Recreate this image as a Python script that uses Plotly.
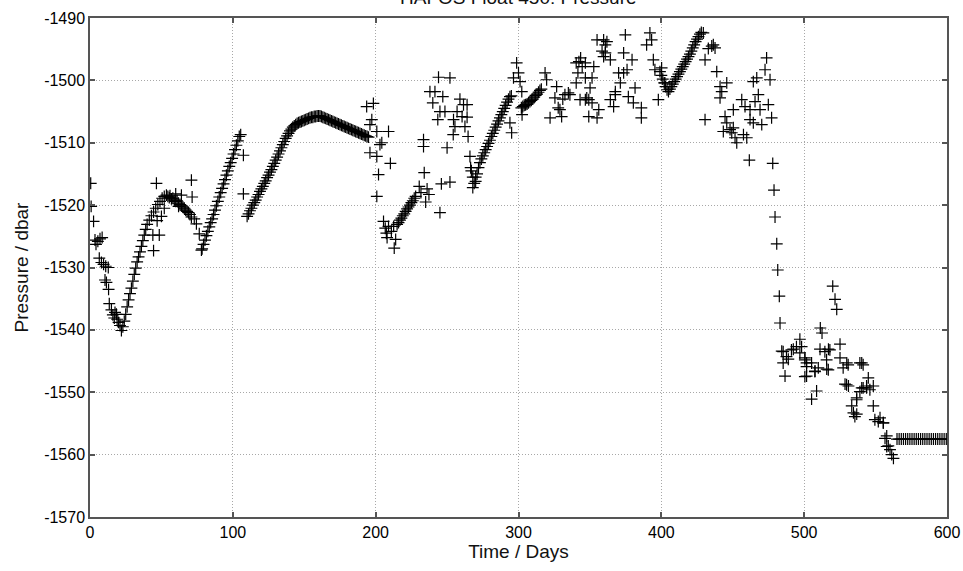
import plotly.graph_objects as go

# ---- data (day, pressure in dbar) ----
early_days = [0.5, 0.8, 2.5, 3.5, 4.2, 5.5, 7.0, 8.5, 6.5, 8.0, 9.5, 11.0, 12.8, 10.5, 11.5, 13.0,
              13.5, 15.0, 16.0, 17.5, 18.5, 17.0, 19.0, 20.0, 21.0, 22.0]
early_pres = [-1516.5, -1520.2, -1522.6, -1525.6, -1526.3, -1525.8, -1525.4, -1525.2, -1528.5, -1529.2,
              -1529.5, -1529.8, -1530.0, -1532.0, -1532.4, -1533.5, -1535.8, -1536.8, -1537.6, -1537.2,
              -1537.5, -1538.1, -1538.3, -1538.8, -1539.3, -1540.1]

ramp1_days = [23, 24, 25, 26, 27, 28, 29, 30, 31, 32, 33, 34, 35, 36, 37, 38, 39, 40, 41.5, 43, 44.5,
              46, 47.5, 49, 50.5, 52, 53.5]
ramp1_pres = [-1539.5, -1538.6, -1537.5, -1536.3, -1535.2, -1534.2, -1533.3, -1532.2, -1531.1, -1530.1,
              -1529.1, -1528.3, -1527.5, -1526.6, -1525.7, -1524.8, -1523.9, -1523.1, -1522.4, -1521.7,
              -1521.1, -1520.5, -1519.9, -1519.4, -1518.9, -1518.6, -1518.4]

scat1_days = [46.5, 44.0, 44.5, 48.5, 50.0, 52.0, 47.0, 71.0, 71.5, 64.0, 60.0, 62.0, 74.5, 76.5, 78.0, 73.0]
scat1_pres = [-1516.5, -1524.8, -1527.3, -1524.8, -1521.8, -1520.5, -1522.5, -1516.0, -1518.7, -1518.4,
              -1518.2, -1520.2, -1523.0, -1524.6, -1527.2, -1522.2]

plat_days = [54.5, 55.5, 56, 57, 58, 59, 60, 61, 62, 63, 64, 65, 66, 67, 68, 69, 70, 71]
plat_pres = [-1518.6, -1518.8, -1518.5, -1519.0, -1518.9, -1519.2, -1519.4, -1519.3, -1519.7, -1519.9,
             -1520.1, -1520.3, -1520.5, -1520.8, -1521.0, -1521.2, -1521.5, -1521.9]

ramp2_days = [78.5, 79.5, 80.5, 81.5, 82.5, 83.5, 84.5, 85.5, 86.5, 87.5, 88.5, 89.5, 90.5, 91.5, 92.5,
              93.5, 94.5, 95.5, 96.5, 97.5, 98.5, 99.5, 100.5, 101.5, 102.5, 103.5, 104.5, 105.5, 107.4, 107.4]
ramp2_pres = [-1527.0, -1526.3, -1525.6, -1524.9, -1524.2, -1523.5, -1522.8, -1522.2, -1521.5, -1520.8,
              -1520.1, -1519.4, -1518.7, -1518.0, -1517.3, -1516.6, -1515.9, -1515.2, -1514.5, -1513.8,
              -1513.2, -1512.5, -1511.8, -1511.1, -1510.4, -1509.7, -1509.0, -1508.7, -1512.0, -1518.2]

ramp3_days = [110, 111, 112, 113, 114, 115, 116, 117, 118, 119, 120, 121, 122, 123, 124, 125, 126, 127,
              128, 129, 130, 131, 132, 133, 134, 135, 136, 137, 138, 139, 140, 141, 142, 143, 144, 145,
              146, 147, 148, 149, 150, 151, 152, 153, 154, 155, 156, 157, 158, 159, 160, 161, 162, 163,
              164, 165, 166, 167, 168, 169, 170, 171, 172, 173, 174, 175, 176, 177, 178, 179, 180, 181,
              182, 183, 184, 185, 186, 187, 188, 189, 190, 191, 192, 193, 194, 195]
ramp3_pres = [-1521.8, -1521.4, -1520.9, -1520.5, -1520.0, -1519.6, -1519.2, -1518.7, -1518.3, -1517.8,
              -1517.4, -1517.0, -1516.5, -1516.1, -1515.6, -1515.2, -1514.7, -1514.3, -1513.8, -1513.3,
              -1512.8, -1512.3, -1511.8, -1511.3, -1510.8, -1510.3, -1509.8, -1509.3, -1508.9, -1508.5,
              -1508.1, -1507.8, -1507.5, -1507.3, -1507.1, -1506.9, -1506.8, -1506.7, -1506.6, -1506.5,
              -1506.4, -1506.3, -1506.2, -1506.1, -1506.0, -1505.9, -1505.9, -1505.8, -1505.8, -1505.7,
              -1505.7, -1505.7, -1505.8, -1505.9, -1506.0, -1506.1, -1506.2, -1506.3, -1506.4, -1506.5,
              -1506.6, -1506.7, -1506.8, -1506.9, -1507.0, -1507.1, -1507.2, -1507.3, -1507.4, -1507.5,
              -1507.6, -1507.7, -1507.8, -1507.9, -1508.0, -1508.1, -1508.2, -1508.3, -1508.4, -1508.5,
              -1508.6, -1508.7, -1508.8, -1508.9, -1509.0, -1509.1]

scat2_days = [193.7, 198.4, 197.3, 196.0, 200.8, 209.0, 204.3, 203.0, 196.0, 200.8, 210.3, 202.0, 200.8,
              205.5, 206.7, 209.0, 212.6, 207.5, 211.0, 214.0, 213.0, 208.0]
scat2_pres = [-1504.2, -1503.7, -1506.3, -1507.1, -1508.2, -1508.2, -1510.0, -1510.3, -1511.6, -1512.2,
              -1513.3, -1515.1, -1518.6, -1522.6, -1523.7, -1523.4, -1523.4, -1524.5, -1524.2, -1525.5,
              -1526.9, -1525.2]

ramp4_days = [215, 216, 217, 218, 219, 220, 221, 222, 223, 224, 225, 226, 227, 228]
ramp4_pres = [-1523.1, -1522.8, -1522.4, -1522.1, -1521.7, -1521.4, -1521.0, -1520.6, -1520.3, -1520.0,
              -1519.6, -1519.3, -1518.9, -1518.6]

scat3_days = [230.5, 234.0, 231.7, 237.3, 236.0, 235.0, 245.0, 246.0, 252.0, 233.5, 233.5, 244.0, 252.0,
              238.0, 241.5, 240.0, 247.0, 245.0, 248.5, 243.5, 259.0, 261.5, 264.0, 257.0, 260.5, 264.0,
              254.5, 255.5, 262.5, 254.3, 264.7, 250.0]
scat3_pres = [-1517.0, -1514.8, -1518.0, -1518.3, -1517.4, -1519.5, -1521.2, -1516.6, -1516.3, -1509.5,
              -1510.6, -1499.5, -1499.6, -1501.8, -1501.8, -1503.6, -1502.6, -1505.0, -1505.0, -1506.3,
              -1503.0, -1503.9, -1503.9, -1505.0, -1505.8, -1505.9, -1506.3, -1507.4, -1507.4, -1508.7,
              -1509.0, -1510.8]

ramp5_days = [266, 266.5, 268, 270, 267, 268, 269, 270, 271, 272, 273, 274, 275, 276, 277, 278, 279, 280,
              281, 282, 283, 284, 285, 286, 287, 288, 289, 290, 291, 292, 293, 294, 295]
ramp5_pres = [-1512.2, -1514.0, -1517.2, -1515.5, -1514.5, -1515.5, -1516.5, -1516.2, -1515.0, -1514.0,
              -1513.2, -1512.6, -1512.1, -1511.6, -1511.1, -1510.6, -1510.1, -1509.6, -1509.0, -1508.5,
              -1508.0, -1507.5, -1507.0, -1506.5, -1506.0, -1505.5, -1505.0, -1504.5, -1504.0, -1503.5,
              -1503.0, -1502.6, -1502.5]

mid_days = [298.7, 300.0, 296.5, 301.1, 302.3, 294.0, 295.2,
            302, 303, 304, 305, 306, 307, 308, 309, 310, 311, 312, 313, 314, 315, 316,
            302.5, 318.6, 319.7, 326.7, 325.5, 327.8, 329.0, 322.1, 330.2, 332.5, 334.9, 336.0, 331.0,
            340.4, 343.5, 342.3, 341.6, 340.4, 344.6, 346.8, 346.8, 351.5, 352.7, 343.1, 347.8, 350.1,
            351.5, 346.8, 349.2, 349.2, 355.0, 356.2, 355.0, 359.6, 360.8, 358.5, 361.9, 360.8, 359.6,
            364.3, 364.3, 367.8, 366.6, 367.8, 370.1, 373.6, 374.8, 373.6, 376.0, 379.5, 371.3, 376.9,
            381.6, 380.4, 386.0, 386.0, 389.7, 392.0, 393.2, 394.4, 395.5, 397.9, 400.2, 402.5]
mid_pres = [-1497.2, -1498.8, -1499.6, -1500.2, -1501.8, -1506.8, -1508.4,
            -1504.4, -1504.2, -1504.0, -1503.9, -1503.8, -1503.6, -1503.4, -1503.2, -1503.0, -1502.7,
            -1502.4, -1502.2, -1501.9, -1501.6, -1501.4,
            -1505.5, -1498.8, -1499.9, -1501.0, -1502.8, -1504.4, -1504.7, -1506.0, -1505.8, -1502.3,
            -1502.0, -1502.3, -1503.0,
            -1497.2, -1496.4, -1497.0, -1498.8, -1500.4, -1497.8, -1497.2, -1499.6, -1499.6, -1497.8,
            -1503.1, -1502.8, -1501.2, -1503.6, -1503.1, -1503.1, -1505.8, -1506.0, -1504.7, -1493.5,
            -1493.5, -1494.3, -1495.3, -1493.8, -1495.6, -1496.2, -1496.7, -1503.1, -1502.3, -1504.2,
            -1501.8, -1498.8, -1495.6, -1492.7, -1498.8, -1498.3, -1496.7, -1500.4, -1502.6, -1501.2,
            -1503.6, -1504.4, -1506.0, -1494.3, -1492.4, -1493.5, -1496.7, -1498.3, -1503.1, -1498.0,
            -1500.4]

ramp6_days = [399, 400, 401, 402, 403, 404, 405, 406, 407, 408, 409, 410, 411, 412, 413, 414, 415, 416,
              417, 418, 419, 420, 421, 422, 423, 424, 425, 426, 427, 428]
ramp6_pres = [-1498.6, -1499.2, -1499.8, -1500.4, -1501.0, -1501.5, -1501.8, -1501.4, -1501.0, -1500.6,
              -1500.2, -1499.8, -1499.4, -1499.0, -1498.6, -1498.2, -1497.8, -1497.4, -1497.0, -1496.6,
              -1496.2, -1495.8, -1495.3, -1494.8, -1494.3, -1493.8, -1493.4, -1493.0, -1492.6, -1492.3]

late_days = [429.4, 436.4, 437.6, 435.3, 432.9, 430.6, 438.8, 441.1, 445.8, 442.3, 441.1, 430.6, 456.3,
             458.6, 450.4, 444.6, 445.8, 462.1, 465.6, 466.8, 464.4, 473.7, 472.6, 476.1, 467.9, 469.1,
             474.9, 477.2, 470.3, 462.1, 464.4, 443.4, 449.3, 451.6, 457.5, 459.8, 452.8, 448.1, 450.4,
             461.6, 478.0]
late_pres = [-1492.4, -1494.3, -1494.8, -1494.5, -1494.9, -1496.7, -1498.6, -1501.0, -1500.4, -1501.8,
             -1502.8, -1506.3, -1503.1, -1504.2, -1504.7, -1505.8, -1506.8, -1504.7, -1503.4, -1499.6,
             -1500.2, -1496.4, -1498.3, -1499.9, -1502.3, -1504.7, -1503.9, -1506.0, -1507.1, -1506.3,
             -1506.8, -1508.2, -1508.4, -1509.2, -1508.7, -1509.2, -1510.0, -1507.9, -1507.6, -1512.8,
             -1513.3]

drop_days = [478.9, 479.6, 480.8, 481.5, 482.6, 483.1]
drop_pres = [-1517.6, -1521.9, -1526.2, -1530.4, -1534.6, -1538.9]

deep_days = [520.0, 521.6, 522.8, 511.3, 512.5, 497.0, 492.4, 484.3, 488.9, 486.6, 497.0, 500.5, 501.7,
             501.7, 505.2, 507.6, 509.9, 515.8, 511.1, 517.0, 525.1, 525.1, 529.8, 540.3, 505.2, 508.7,
             528.6, 531.0, 533.3, 534.5, 536.8, 543.7, 544.9, 548.4, 540.3, 536.8, 548.4, 553.1, 555.4,
             557.8, 558.9, 494.6, 491.1, 485.3, 487.6, 485.3, 498.2, 500.5, 501.7, 500.5, 507.5, 514.5,
             515.7, 516.9, 518.0, 527.3, 530.8, 529.7, 535.5, 539.0, 541.3, 536.7, 539.0, 541.3, 543.7,
             546.0, 549.5, 551.9, 555.4, 556.6, 557.8, 560.1, 561.3, 562.5]
deep_pres = [-1533.0, -1535.1, -1536.7, -1539.7, -1540.5, -1541.5, -1543.1, -1543.4, -1544.7, -1547.4,
             -1543.7, -1544.5, -1545.3, -1547.4, -1545.3, -1546.6, -1546.1, -1546.3, -1543.1, -1543.1,
             -1542.3, -1544.5, -1545.3, -1545.3, -1551.1, -1549.8, -1548.7, -1549.0, -1552.2, -1553.3,
             -1553.5, -1549.0, -1547.7, -1549.0, -1549.3, -1550.9, -1552.2, -1554.1, -1554.9, -1557.0,
             -1558.6, -1542.7, -1543.2, -1543.5, -1544.3, -1545.3, -1542.7, -1544.8, -1545.9, -1547.5,
             -1546.7, -1543.5, -1544.8, -1546.4, -1543.2, -1546.1, -1545.6, -1548.8, -1553.9, -1545.3,
             -1545.6, -1551.2, -1549.9, -1549.3, -1549.3, -1549.6, -1554.4, -1554.7, -1554.9, -1557.4,
             -1558.7, -1559.2, -1560.0, -1560.6]

flat_days = [565.0, 566.5, 568.0, 569.5, 571.0, 572.5, 574.0, 575.5, 577.0, 578.5, 580.0, 581.5, 583.0,
             584.5, 586.0, 587.5, 589.0, 590.5, 592.0, 593.5, 595.0, 596.5, 598.0, 599.5]
flat_pres = [-1557.5] * len(flat_days)

x_ticks = [0, 100, 200, 300, 400, 500, 600]
y_ticks = [-1570, -1560, -1550, -1540, -1530, -1520, -1510, -1500, -1490]

segments = [
    (early_days, early_pres), (ramp1_days, ramp1_pres), (scat1_days, scat1_pres),
    (plat_days, plat_pres), (ramp2_days, ramp2_pres), (ramp3_days, ramp3_pres),
    (scat2_days, scat2_pres), (ramp4_days, ramp4_pres), (scat3_days, scat3_pres),
    (ramp5_days, ramp5_pres), (mid_days, mid_pres), (ramp6_days, ramp6_pres),
    (late_days, late_pres), (drop_days, drop_pres), (deep_days, deep_pres),
    (flat_days, flat_pres),
]
days = [d for seg in segments for d in seg[0]]
pres = [p for seg in segments for p in seg[1]]

FONT = "Liberation Sans, Arial, Helvetica, sans-serif"

fig = go.Figure()
fig.add_trace(go.Scatter(
    x=days, y=pres, mode="markers",
    marker=dict(symbol="cross-thin", size=8.5, color="rgba(0,0,0,0)",
                line=dict(color="#000000", width=1.2)),
    hoverinfo="x+y", showlegend=False,
))

axis_common = dict(
    showline=True, linecolor="#555555", linewidth=1.5, mirror="ticks",
    ticks="inside", ticklen=5, tickcolor="#555555", tickwidth=1.5,
    showgrid=True, gridcolor="#a8a8a8", griddash="1px,2px", gridwidth=1,
    zeroline=False, automargin=False,
    tickfont=dict(family=FONT, size=16, color="#000000"),
)

fig.update_xaxes(range=[0, 600], tickvals=x_ticks, ticktext=[str(v) for v in x_ticks],
                 title=dict(text="Time / Days", font=dict(family=FONT, size=19, color="#111111"),
                            standoff=2),
                 **axis_common)
fig.update_yaxes(range=[-1570, -1490], tickvals=y_ticks, ticktext=[str(v) for v in y_ticks],
                 title=dict(text="Pressure / dbar", font=dict(family=FONT, size=19, color="#111111"),
                            standoff=10),
                 **axis_common)

fig.add_annotation(text="HAFOS Float 450: Pressure", xref="paper", yref="paper",
                   x=0.5, y=1, yanchor="bottom", yshift=8, showarrow=False,
                   font=dict(family=FONT, size=19, color="#111111"))

fig.update_layout(
    width=963, height=571,
    margin=dict(l=90, r=16, t=18, b=54),
    paper_bgcolor="white", plot_bgcolor="white",
    font=dict(family=FONT, color="#111111"),
)

fig.write_html("out.html", config={"displayModeBar": False},
               post_script="document.body.style.margin='0';")
